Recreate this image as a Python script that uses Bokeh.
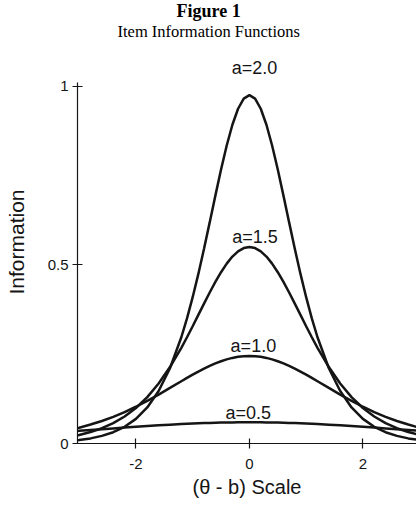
from bokeh.plotting import figure
from bokeh.models import Range1d, FixedTicker, Title
from bokeh.core.properties import value
from bokeh.embed import file_html
from bokeh.resources import INLINE

# (theta - b) positions at which the curves were read
theta_b = [-3.2, -3.0, -2.8, -2.6, -2.4, -2.2, -2.0, -1.8, -1.6, -1.4, -1.2,
           -1.1, -1.0, -0.9, -0.8, -0.7, -0.6, -0.5, -0.4, -0.3, -0.2, -0.1,
           0.0,
           0.1, 0.2, 0.3, 0.4, 0.5, 0.6, 0.7, 0.8, 0.9, 1.0, 1.1,
           1.2, 1.4, 1.6, 1.8, 2.0, 2.2, 2.4, 2.6, 2.8, 3.0, 3.2]

# Item information for each discrimination value a
info_a20 = [0.0065, 0.0096, 0.0143, 0.0213, 0.0316, 0.0467, 0.0689, 0.1010, 0.1468, 0.2107, 0.2974,
            0.3502, 0.4095, 0.4747, 0.5451, 0.6189, 0.6938, 0.7668, 0.8342, 0.8923, 0.9370, 0.9653,
            0.975,
            0.9653, 0.9370, 0.8923, 0.8342, 0.7668, 0.6938, 0.6189, 0.5451, 0.4747, 0.4095, 0.3502,
            0.2974, 0.2107, 0.1468, 0.1010, 0.0689, 0.0467, 0.0316, 0.0213, 0.0143, 0.0096, 0.0065]
info_a15 = [0.0178, 0.0239, 0.0320, 0.0428, 0.0570, 0.0755, 0.0994, 0.1298, 0.1678, 0.2139, 0.2679,
            0.2974, 0.3282, 0.3599, 0.3915, 0.4226, 0.4522, 0.4795, 0.5034, 0.5232, 0.5379, 0.5470,
            0.550,
            0.5470, 0.5379, 0.5232, 0.5034, 0.4795, 0.4522, 0.4226, 0.3915, 0.3599, 0.3282, 0.2974,
            0.2679, 0.2139, 0.1678, 0.1298, 0.0994, 0.0755, 0.0570, 0.0428, 0.0320, 0.0239, 0.0178]
info_a10 = [0.0369, 0.0443, 0.0530, 0.0631, 0.0747, 0.0880, 0.1029, 0.1193, 0.1370, 0.1555, 0.1743,
            0.1836, 0.1927, 0.2014, 0.2096, 0.2173, 0.2242, 0.2303, 0.2355, 0.2396, 0.2426, 0.2444,
            0.245,
            0.2444, 0.2426, 0.2396, 0.2355, 0.2303, 0.2242, 0.2173, 0.2096, 0.2014, 0.1927, 0.1836,
            0.1743, 0.1555, 0.1370, 0.1193, 0.1029, 0.0880, 0.0747, 0.0631, 0.0530, 0.0443, 0.0369]
info_a05 = [0.0332, 0.0354, 0.0377, 0.0400, 0.0423, 0.0445, 0.0467, 0.0488, 0.0508, 0.0527, 0.0543,
            0.0551, 0.0558, 0.0565, 0.0571, 0.0576, 0.0581, 0.0585, 0.0588, 0.0590, 0.0592, 0.0593,
            0.0594,
            0.0593, 0.0592, 0.0590, 0.0588, 0.0585, 0.0581, 0.0576, 0.0571, 0.0565, 0.0558, 0.0551,
            0.0543, 0.0527, 0.0508, 0.0488, 0.0467, 0.0445, 0.0423, 0.0400, 0.0377, 0.0354, 0.0332]

curve_labels = ["a=2.0", "a=1.5", "a=1.0", "a=0.5"]
label_x = [0.09, 0.1, 0.07, -0.02]
label_y = [1.05, 0.578, 0.274, 0.086]

x_ticks = [-2, 0, 2]
x_tick_labels = ["-2", "0", "2"]
y_ticks = [0, 0.5, 1]
y_tick_labels = ["0", "0.5", "1"]

INK = "#151515"

p = figure(width=416, height=508, output_backend="svg", toolbar_location=None,
           x_range=Range1d(-3.03, 2.945), y_range=Range1d(0, 1.128),
           min_border_left=77, min_border_right=0, min_border_bottom=65,
           min_border_top=0)
p.outline_line_color = None
p.grid.visible = False
p.background_fill_color = "white"
p.border_fill_color = "white"

for ys in [info_a20, info_a15, info_a10, info_a05]:
    p.line(theta_b, ys, line_color=INK, line_width=2.5)

p.text(x=label_x, y=label_y, text=curve_labels, text_align="center",
       text_baseline="middle", text_font=value("Liberation Sans"),
       text_font_size="18px", text_color=INK)

p.add_layout(Title(text="Item Information Functions", align="left",
                   text_font="Liberation Serif", text_font_size="16.5px",
                   text_font_style="normal", text_color="#000000",
                   standoff=0, offset=40), "above")
p.add_layout(Title(text="Figure 1", align="left",
                   text_font="Liberation Serif", text_font_size="18px",
                   text_font_style="bold", text_color="#000000",
                   standoff=-3, offset=99), "above")

for ax in (p.xaxis[0], p.yaxis[0]):
    ax.axis_line_color = INK
    ax.axis_line_width = 1.2
    ax.major_tick_line_color = INK
    ax.major_tick_line_width = 1.2
    ax.major_tick_in = 5
    ax.major_tick_out = 5
    ax.minor_tick_line_color = None
    ax.major_label_text_font = "Liberation Sans"
    ax.major_label_text_font_size = "15px"
    ax.major_label_text_color = INK
    ax.axis_label_text_font = "Liberation Sans"
    ax.axis_label_text_font_style = "normal"
    ax.axis_label_text_color = INK

p.xaxis.ticker = FixedTicker(ticks=x_ticks)
p.xaxis.major_label_overrides = dict(zip(x_ticks, x_tick_labels))
p.xaxis.axis_label = "(θ - b) Scale"
p.xaxis.axis_label_text_font_size = "20px"
p.xaxis.major_label_standoff = 10
p.xaxis.axis_label_standoff = 4

p.yaxis.ticker = FixedTicker(ticks=y_ticks)
p.yaxis.major_label_overrides = dict(zip(y_ticks, y_tick_labels))
p.yaxis.axis_label = "Information"
p.yaxis.axis_label_text_font_size = "21px"
p.yaxis.axis_label_text_line_height = 1.0
p.yaxis.bounds = (0, 1.01)
p.yaxis.major_label_standoff = 4
p.yaxis.axis_label_standoff = 17

open("out.html", "w").write(file_html(p, INLINE))
